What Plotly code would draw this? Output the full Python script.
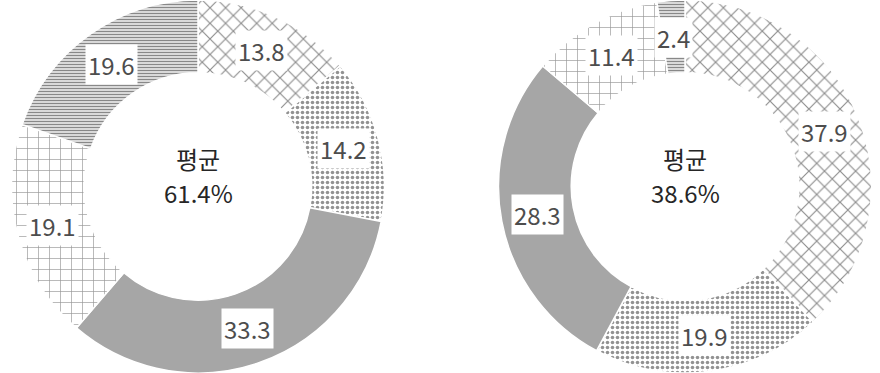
import math
import plotly.graph_objects as go

left_values = [13.8, 14.2, 33.3, 19.1, 19.6]
right_values = [37.9, 19.9, 28.3, 11.4, 2.4]
categories = ["A", "B", "C", "D", "E"]
left_center = ["평균", "61.4%"]
right_center = ["평균", "38.6%"]

W, H = 880, 373
HOLE = 0.61
FONT = "Noto Sans CJK KR, Noto Sans, sans-serif"

fills = ["white", "white", "#a6a6a6", "white", "white"]
shapes = ["x", ".", "", "+", "-"]
fgcolors = ["#1a1a1a", "#262626", "#a6a6a6", "#333333", "#111111"]
sizes = [11, 5, 8, 11, 3]
solid = [0.2, 0.4, 0.3, 0.12, 0.55]

R = H / 2
centers = [(198, 187), (685, 187)]

fig = go.Figure()
annotations = []
for vals, (cx, cy), ctext in [(left_values, centers[0], left_center),
                               (right_values, centers[1], right_center)]:
    dom_x = [(cx - R) / W, (cx + R) / W]
    fig.add_trace(go.Pie(
        values=vals, labels=categories, sort=False, direction="clockwise",
        rotation=0, hole=HOLE, textinfo="none", showlegend=False,
        domain=dict(x=dom_x, y=[0, 1]),
        marker=dict(colors=fills, line=dict(color="white", width=1.5),
                    pattern=dict(shape=shapes, fgcolor=fgcolors, bgcolor=fills,
                                 size=sizes, solidity=solid, fillmode="overlay")),
        hoverinfo="none",
    ))
    total = sum(vals)
    cum = 0
    rmid = (HOLE + 1) / 2 * R
    for v in vals:
        mid = (cum + v / 2) / total * 2 * math.pi
        cum += v
        px = cx + rmid * math.sin(mid)
        py = cy - rmid * math.cos(mid)
        annotations.append(dict(
            x=px / W, y=1 - py / H, xref="paper", yref="paper",
            text=f"{v:.1f}", showarrow=False, bgcolor="white",
            borderpad=2, font=dict(family=FONT, size=24, color="#4d4d4d"),
            xanchor="center", yanchor="middle"))
    annotations.append(dict(
        x=cx / W, y=1 - (cy - 29) / H, xref="paper", yref="paper",
        text=ctext[0], showarrow=False, borderpad=0,
        font=dict(family=FONT, size=24, color="#262626"),
        xanchor="center", yanchor="middle"))
    annotations.append(dict(
        x=cx / W, y=1 - (cy + 5) / H, xref="paper", yref="paper",
        text=ctext[1], showarrow=False, borderpad=0,
        font=dict(family=FONT, size=24, color="#262626"),
        xanchor="center", yanchor="middle"))

fig.update_layout(width=W, height=H, margin=dict(l=0, r=0, t=0, b=0),
                  paper_bgcolor="white", plot_bgcolor="white",
                  annotations=annotations)
fig.write_html("out.html")
